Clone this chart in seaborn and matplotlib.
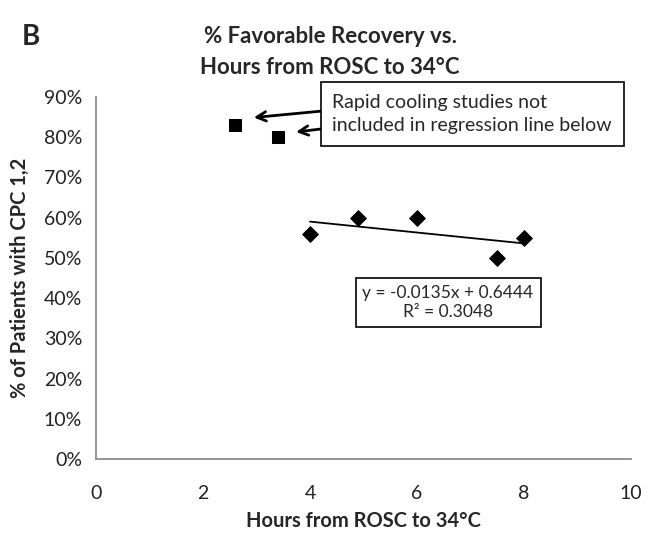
import matplotlib
matplotlib.use("Agg")
import matplotlib.pyplot as plt
import seaborn as sns
import numpy as np
import pandas as pd
from matplotlib.ticker import PercentFormatter

# Data
rapid_hours = [2.6, 3.4]
rapid_pct = [0.83, 0.80]
reg_hours = [4.0, 4.9, 6.0, 7.5, 8.0]
reg_pct = [0.56, 0.60, 0.60, 0.50, 0.55]
x_ticks = [0, 2, 4, 6, 8, 10]
y_ticks = [0.0, 0.1, 0.2, 0.3, 0.4, 0.5, 0.6, 0.7, 0.8, 0.9]

title = "% Favorable Recovery vs.\nHours from ROSC to 34°C"
xlabel = "Hours from ROSC to 34°C"
ylabel = "% of Patients with CPC 1,2"
note = "Rapid cooling studies not\nincluded in regression line below"
eq_text = "y = -0.0135x + 0.6444\nR² = 0.3048"

sns.set_theme(style="white")
plt.rcParams['font.family'] = ['Lato', 'DejaVu Sans']

df_rapid = pd.DataFrame({"hours": rapid_hours, "pct": rapid_pct})
df_reg = pd.DataFrame({"hours": reg_hours, "pct": reg_pct})

fig = plt.figure(figsize=(6.48, 5.33), dpi=100)
ax = fig.add_axes([96/648, 1-459/533, (631-96)/648, (459-97)/533])

sns.scatterplot(data=df_rapid, x="hours", y="pct", marker="s", s=85,
                color="black", edgecolor="black", ax=ax, zorder=3)
sns.scatterplot(data=df_reg, x="hours", y="pct", marker="D", s=65,
                color="black", edgecolor="black", ax=ax, zorder=3)
sns.regplot(data=df_reg, x="hours", y="pct", scatter=False, ci=None,
            truncate=True, color="black", line_kws={"linewidth": 1.3}, ax=ax)

ax.set_xlim(0, 10)
ax.set_ylim(0, 0.9)
ax.set_xticks(x_ticks)
ax.set_yticks(y_ticks)
ax.yaxis.set_major_formatter(PercentFormatter(1.0, decimals=0))
ax.tick_params(axis="both", labelsize=14, colors="#222222", length=0)
ax.tick_params(axis="y", pad=10)
ax.tick_params(axis="x", pad=19)

for s in ["top", "right"]:
    ax.spines[s].set_visible(False)
for s in ["left", "bottom"]:
    ax.spines[s].set_color("#8c8c8c")
    ax.spines[s].set_linewidth(1.3)

ax.set_xlabel(xlabel, fontsize=14.5, fontweight="bold", labelpad=6)
ax.set_ylabel(ylabel, fontsize=14.5, fontweight="bold", labelpad=10)

fig.text(330/648, 1-52/533, title, ha="center", va="center", fontsize=16,
         fontweight="bold", linespacing=1.6)
fig.text(22/648, 1-37/533, "B", ha="left", va="center", fontsize=20,
         fontweight="bold")

# Note box
ax.text(4.42, 0.858, note, ha="left", va="center",
        fontsize=14, linespacing=1.45, zorder=4,
        bbox=dict(boxstyle="square,pad=0.6", facecolor="white",
                  edgecolor="black", linewidth=1.2))
# Arrows (open heads)
arrow_kw = dict(arrowstyle="->,head_length=0.55,head_width=0.28",
                color="black", linewidth=2.0, shrinkA=0, shrinkB=0)
ax.annotate("", xy=(2.95, 0.849), xytext=(4.3, 0.866),
            arrowprops=arrow_kw)
ax.annotate("", xy=(3.74, 0.813), xytext=(4.3, 0.822),
            arrowprops=arrow_kw)

# Equation box
ax.text(6.58, 0.39, eq_text, ha="center", va="center", fontsize=12.5,
        linespacing=1.25,
        bbox=dict(boxstyle="square,pad=0.4", facecolor="white",
                  edgecolor="black", linewidth=1.2))

fig.savefig("out.png", dpi=100)
